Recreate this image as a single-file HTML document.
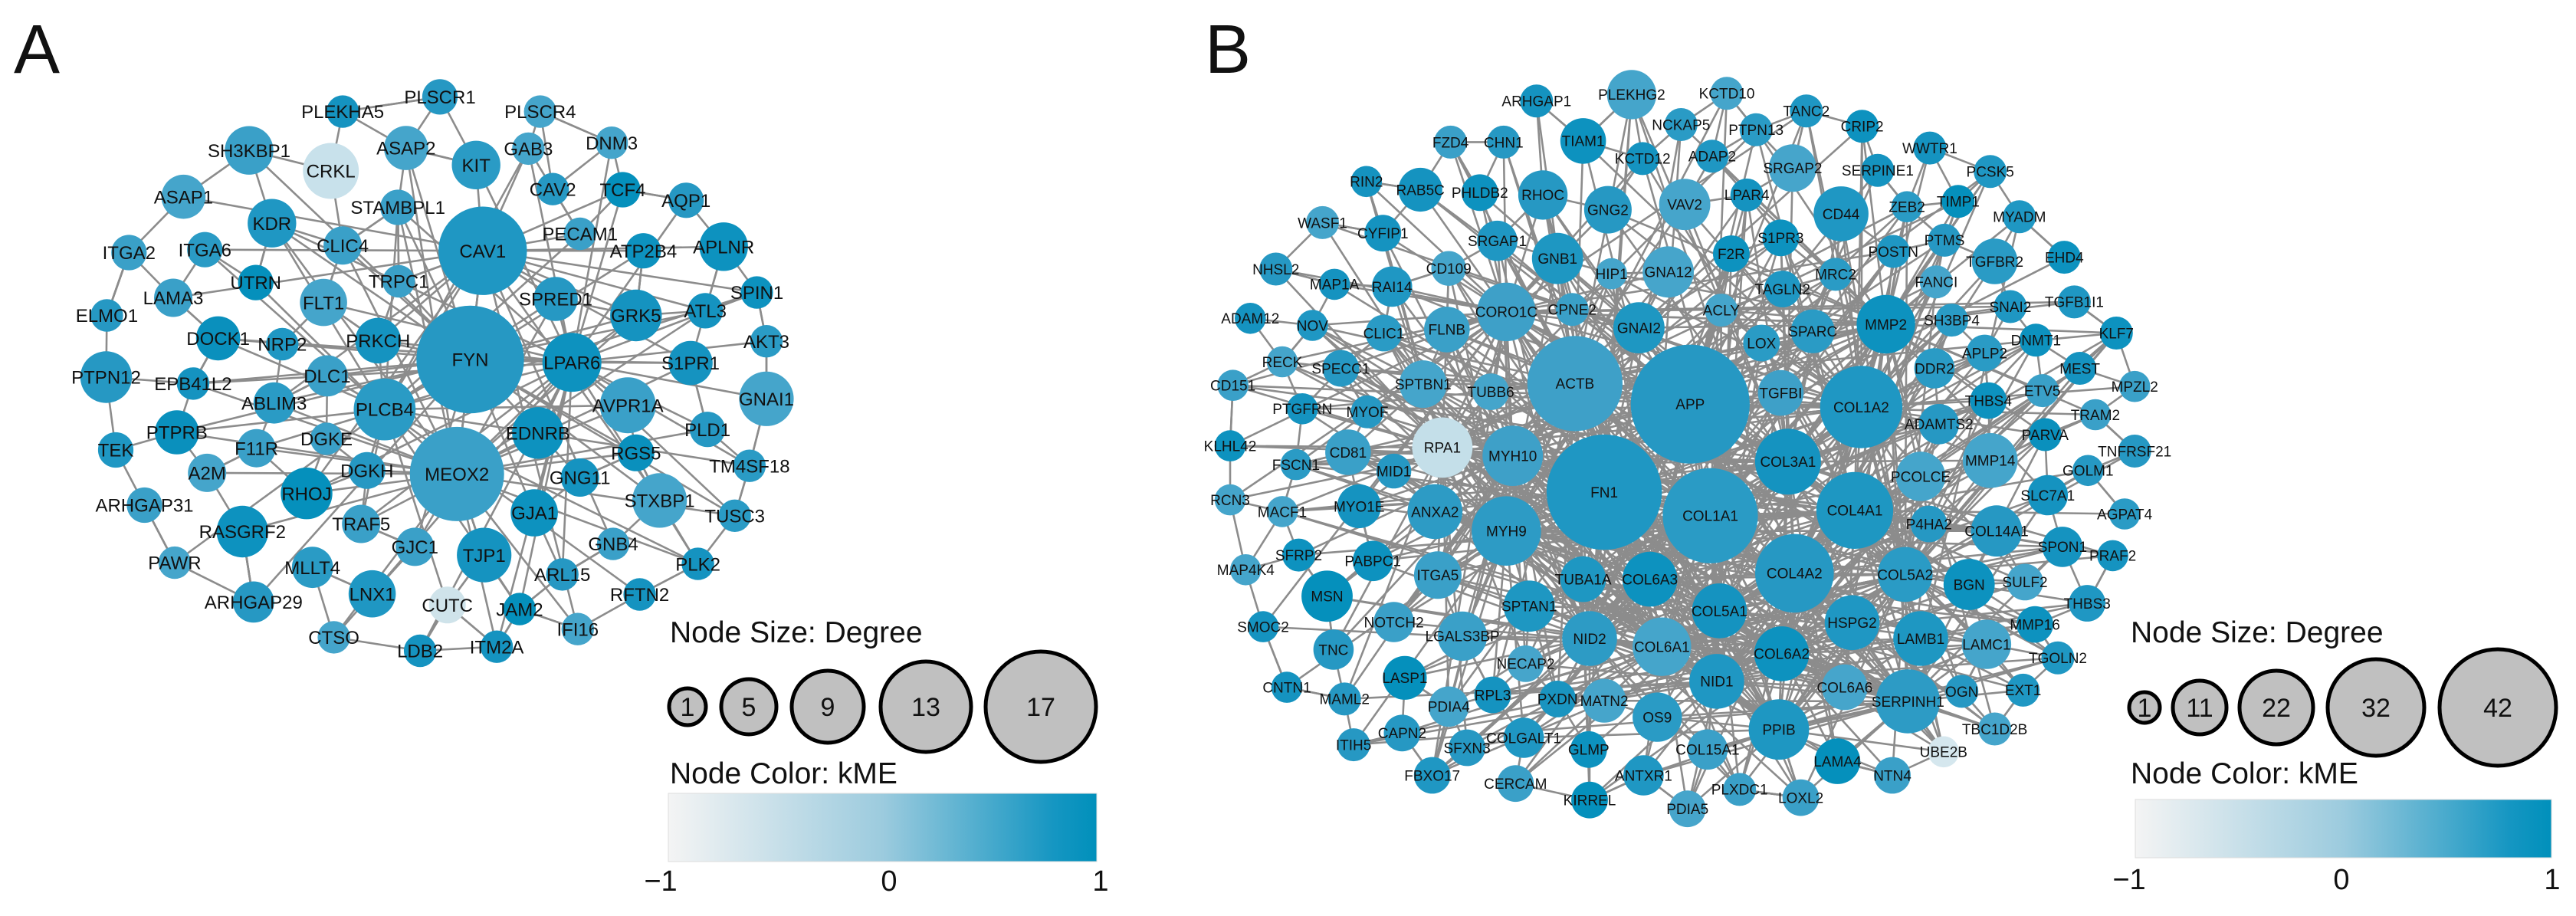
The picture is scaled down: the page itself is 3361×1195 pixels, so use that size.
<!DOCTYPE html>
<html><head><meta charset="utf-8"><style>
html,body{margin:0;padding:0;background:#fff;width:3361px;height:1195px;overflow:hidden}
svg{display:block}
text{font-family:"Liberation Sans",Arial,sans-serif;fill:#111}
</style></head><body>
<svg id="s" width="3361" height="1195" viewBox="0 0 3361 1195" xmlns="http://www.w3.org/2000/svg">
<defs><linearGradient id="g" x1="0" x2="1" y1="0" y2="0">
<stop offset="0" stop-color="#f4f4f4"/><stop offset="0.5" stop-color="#9ccbde"/><stop offset="0.9" stop-color="#1596c2"/><stop offset="1" stop-color="#0090bb"/></linearGradient></defs>
<g id="edges" stroke="#8c8c8c" stroke-width="2.6" fill="none"></g>
<g id="nodes"></g>
<g id="labels"></g>
<text x="18" y="95" font-size="90">A</text>
<text x="1572" y="95" font-size="90">B</text>
<text x="874" y="838" font-size="39">Node Size: Degree</text>
<g stroke="#000" stroke-width="5" fill="#c0c0c0">
<circle cx="897" cy="922" r="24"/><circle cx="977" cy="922" r="36"/><circle cx="1080" cy="922" r="47"/><circle cx="1208" cy="922" r="59"/><circle cx="1358" cy="922" r="72"/>
</g>
<g font-size="34" text-anchor="middle"><text x="897" y="934">1</text><text x="977" y="934">5</text><text x="1080" y="934">9</text><text x="1208" y="934">13</text><text x="1358" y="934">17</text></g>
<text x="874" y="1022" font-size="39">Node Color: kME</text>
<rect x="872" y="1035" width="559" height="89" fill="url(#g)" stroke="#ddd" stroke-width="1"/>
<g font-size="38" text-anchor="middle"><text x="862" y="1162">−1</text><text x="1160" y="1162">0</text><text x="1436" y="1162">1</text></g>
<text x="2780" y="838" font-size="39">Node Size: Degree</text>
<g stroke="#000" stroke-width="5" fill="#c0c0c0">
<circle cx="2798" cy="923" r="20"/><circle cx="2870" cy="923" r="35"/><circle cx="2970" cy="923" r="48"/><circle cx="3100" cy="923" r="63"/><circle cx="3259" cy="923" r="76"/>
</g>
<g font-size="34" text-anchor="middle"><text x="2798" y="935">1</text><text x="2870" y="935">11</text><text x="2970" y="935">22</text><text x="3100" y="935">32</text><text x="3259" y="935">42</text></g>
<text x="2780" y="1022" font-size="39">Node Color: kME</text>
<rect x="2786" y="1043" width="543" height="76" fill="url(#g)" stroke="#ddd" stroke-width="1"/>
<g font-size="38" text-anchor="middle"><text x="2778" y="1160">−1</text><text x="3055" y="1160">0</text><text x="3330" y="1160">1</text></g>
</svg>
<script>
var A=[["CAV1",655,427,60],["FYN",638,612,73],["MEOX2",620,807,64],["PLCB4",522,697,42],["LPAR6",776,617,40],["GRK5",863,537,35],["AVPR1A",852,690,38],["EDNRB",730,737,35],["GJA1",725,873,32],["TJP1",657,945,37],["STXBP1",895,852,37],["GNAI1",1040,679,37],["APLNR",982,420,33],["KIT",646,281,33],["CRKL",449,291,38,"#c8e1eb"],["SH3KBP1",338,256,33],["ASAP2",551,252,30],["ASAP1",249,335,30],["KDR",369,380,33],["FLT1",439,515,32],["PRKCH",513,580,31],["DOCK1",296,576,30,"#0a90bd"],["PTPN12",144,642,35],["RASGRF2",329,905,35],["RHOJ",416,840,35,"#0590bc"],["LNX1",505,1011,32],["PTPRB",240,736,30,"#0a90bd"],
["PLEKHA5",465,190,22],["PLSCR1",597,165,24],["PLSCR4",733,190,22],["GAB3",717,253,22],["DNM3",830,243,22],["CAV2",750,322,22],["TCF4",845,323,24,"#0590bc"],["AQP1",931,341,24],["STAMBPL1",540,353,24],["PECAM1",787,398,22],["ATP2B4",873,427,24],["ITGA2",175,430,24],["ITGA6",278,425,24],["CLIC4",465,418,26],["TRPC1",541,479,22],["UTRN",347,481,24,"#0590bc"],["LAMA3",235,507,26],["SPRED1",754,509,30],["ATL3",957,529,24],["SPIN1",1027,498,22],["ELMO1",145,537,22],["NRP2",383,586,22],["AKT3",1040,581,22],["S1PR1",937,618,30],["EPB41L2",262,653,22],["DLC1",444,640,28],["ABLIM3",372,686,28],["PLD1",960,731,24],["TEK",157,766,24],["F11R",348,763,26],["DGKE",443,747,22],["RGS5",863,771,25,"#0a90bd"],["A2M",281,805,26],["DGKH",498,801,25],["GNG11",787,813,26],["TM4SF18",1017,793,22],["ARHGAP31",196,860,24],["TUSC3",997,878,22],["TRAF5",490,892,26],["GJC1",563,931,26],["GNB4",832,926,22],["PLK2",947,960,22],["PAWR",237,958,22],["MLLT4",424,966,28],["ARL15",763,978,22],["RFTN2",868,1012,22],["ARHGAP29",344,1025,28],["CUTC",607,1030,25,"#cfe3ea"],["JAM2",705,1037,22,"#0590bc"],["IFI16",784,1071,22],["CTSO",453,1085,22],["LDB2",570,1108,22],["ITM2A",674,1101,22]];
var B=[["APP",591,688,65],["FN1",497,838,63],["ACTB",465,653,52,"#3ea0c8"],["COL1A1",613,878,52],["COL1A2",778,693,45],["COL4A1",771,869,42,"#1e97c2"],["COL4A2",705,976,43],["COL3A1",698,786,36],["MYH9",390,904,38,"#2d9bc5"],["MYH10",397,776,33,"#3ea0c8"],["COL5A2",826,978,30],["COL5A1",623,1040,30],["COL6A3",547,986,30],["NID2",481,1087,30,"#2d9bc5"],["COL6A1",560,1101,32],["COL6A2",691,1113,30],["NID1",620,1160,30],["PPIB",688,1242,33,"#1e97c2"],["SERPINH1",829,1194,35,"#2d9bc5"],["HSPG2",768,1060,30],["LAMB1",843,1087,30,"#1e97c2"],["MMP14",919,784,30],["MMP2",805,552,32],["CD44",756,364,30],["CORO1C",390,531,32,"#3ea0c8"],["RPA1",320,762,33,"#c4dfe9"],["ANXA2",312,871,30,"#2d9bc5"],["TUBA1A",474,986,25,"#1e97c2"],["SPTAN1",415,1032,28,"#1e97c2"],["ITGA5",315,979,26],["MSN",194,1015,28,"#0590bc"],["LGALS3BP",342,1083,27],["BGN",896,995,28],["LAMC1",915,1097,27],["PCOLCE",843,811,27],["GNAI2",535,558,28,"#1e97c2"],["TGFBI",690,669,25,"#3ea0c8"],["SPARC",725,564,24],["GNA12",567,463,28,"#46a5cb"],["GNB1",446,440,28,"#1e97c2"],["VAV2",585,348,28,"#46a5cb"],["GNG2",501,357,26],["RHOC",430,332,27],["PLEKHG2",527,161,27],["TIAM1",474,240,25],["SRGAP2",703,286,26,"#46a5cb"],["OS9",555,1221,27],["COL6A6",760,1170,25,"#46a5cb"],["LAMA4",752,1296,25,"#0590bc"],["COL14A1",926,904,28],["TGFBR2",924,445,25],["FLNB",325,561,25],["SPTBN1",299,654,26],["CD81",217,770,25],["MYO1E",229,862,24],["MATN2",497,1193,24,"#46a5cb"],["TNC",201,1106,22],["RAB5C",296,323,24],
["ARHGAP1",423,172,18],["KCTD10",631,159,18],["TANC2",718,189,18],["NCKAP5",581,212,18],["PTPN13",663,221,18],["CRIP2",779,215,18],["FZD4",329,242,18],["CHN1",387,242,18],["KCTD12",539,270,18],["ADAP2",615,266,18],["WWTR1",853,252,18],["SERPINE1",796,290,18],["PCSK5",919,292,18],["RIN2",237,309,17],["PHLDB2",361,328,20],["LPAR4",653,332,18],["ZEB2",828,352,17],["TIMP1",884,343,18,"#0590bc"],["MYADM",951,369,18],["WASF1",189,379,18],["CYFIP1",255,397,20],["SRGAP1",380,410,22],["S1PR3",690,405,20],["POSTN",813,428,18],["PTMS",869,409,18],["EHD4",1000,438,18],["NHSL2",138,458,18],["CD109",327,457,19],["HIP1",505,466,17],["F2R",636,432,20],["MRC2",750,467,18],["FANCI",860,480,18],["MAP1A",202,484,17],["RAI14",265,488,22],["TAGLN2",692,492,20],["TGFB1I1",1011,514,18],["SNAI2",941,522,18],["ADAM12",110,542,17],["NOV",178,554,17],["CLIC1",256,567,20],["CPNE2",462,527,18],["ACLY",625,528,18],["LOX",669,584,20],["SH3BP4",877,545,18],["DNMT1",969,579,18],["KLF7",1057,567,18],["RECK",145,616,17],["SPECC1",209,627,20],["APLP2",913,601,20],["DDR2",858,627,22],["MEST",1017,627,18],["CD151",91,656,17],["TUBB6",373,667,20],["MPZL2",1077,658,17],["PTGFRN",167,696,17],["MYOF",238,701,18],["THBS4",917,682,20],["ETV5",976,665,18],["TRAM2",1034,706,17],["ADAMTS2",863,722,22],["PARVA",979,740,18,"#0a90bd"],["KLHL42",88,759,17],["TNFRSF21",1077,768,18],["FSCN1",160,791,17],["MID1",267,802,19],["GOLM1",1026,801,17],["RCN3",88,851,17],["SLC7A1",982,843,22],["MACF1",145,871,17],["P4HA2",852,892,20],["AGPAT4",1066,875,17],["SPON1",998,931,22],["PRAF2",1053,946,17],["SFRP2",163,945,18],["PABPC1",244,955,22],["MAP4K4",105,970,17],["SULF2",957,991,20],["THBS3",1025,1027,20],["NOTCH2",267,1059,22],["MMP16",968,1063,20],["SMOC2",124,1067,17],["TGOLN2",993,1120,18],["NECAP2",411,1130,20,"#46a5cb"],["LASP1",279,1154,24,"#0590bc"],["CNTN1",150,1170,17],["OGN",888,1177,18],["EXT1",955,1175,18],["MAML2",213,1190,18],["PDIA4",327,1203,22],["RPL3",375,1183,20],["PXDN",446,1190,20,"#1a94c0"],["ITIH5",223,1268,18],["CAPN2",276,1248,20],["SFXN3",347,1273,20],["COLGALT1",409,1256,22],["GLMP",480,1276,20],["COL15A1",610,1276,22],["TBC1D2B",924,1241,18],["UBE2B",868,1280,17,"#d5e7ee"],["FBXO17",309,1320,20],["CERCAM",400,1334,20],["ANTXR1",540,1320,22],["NTN4",812,1320,20],["PLXDC1",645,1344,18],["LOXL2",712,1358,20],["KIRREL",481,1362,20,"#0590bc"],["PDIA5",588,1377,20,"#46a5cb"]];
var NS="http://www.w3.org/2000/svg";
var E=document.getElementById("edges"),N=document.getElementById("nodes"),L=document.getElementById("labels");
var seed=7;function rnd(){seed=(seed*16807)%2147483647;return seed/2147483647;}
var pal=["#1f97c3","#2a9bc5","#3aa0c8","#1593c0","#45a5cb","#0d92bf","#2698c3"];
function el(t,a){var e=document.createElementNS(NS,t);for(var k in a)e.setAttribute(k,a[k]);return e;}
function build(list,fx,fy,ox,fs,k,hubN,hubP,dd){
 var P=list.map(function(d){return {n:d[0],x:ox+d[1]/fx,y:d[2]/fy,r:d[3]/fx,c:d[4]||pal[Math.floor(rnd()*pal.length)]};});
 var sorted=P.slice().sort(function(a,b){return b.r-a.r;});var hubs=sorted.slice(0,hubN);
 function line(a,b){E.appendChild(el("line",{x1:a.x.toFixed(1),y1:a.y.toFixed(1),x2:b.x.toFixed(1),y2:b.y.toFixed(1)}));}
 P.forEach(function(a,i){
  var ds=P.map(function(b,j){return [Math.hypot(a.x-b.x,a.y-b.y),j];}).filter(function(v){return v[1]!=i;}).sort(function(u,v){return u[0]-v[0];});
  for(var q=0;q<k;q++){var j=ds[q+Math.floor(rnd()*2)][1];line(a,P[j]);}
  hubs.forEach(function(h){var d=Math.hypot(a.x-h.x,a.y-h.y);if(h!==a&&rnd()<hubP*Math.min(1,Math.pow(dd/d,2)))line(a,h);});
 });
 for(var i=0;i<hubs.length;i++)for(var j=i+1;j<hubs.length;j++)if(rnd()<0.6)line(hubs[i],hubs[j]);
 P.forEach(function(a){N.appendChild(el("circle",{cx:a.x.toFixed(1),cy:a.y.toFixed(1),r:a.r.toFixed(1),fill:a.c}));});
 P.forEach(function(a){var t=el("text",{x:a.x.toFixed(1),y:(a.y+fs*0.36).toFixed(1),"font-size":fs,"text-anchor":"middle"});t.textContent=a.n;L.appendChild(t);});
}
build(A,1.04,1.305,0,24,2,5,0.45,300);
build(B,0.838,1.305,1500,19,2,22,0.6,230);
</script>
</body></html>
